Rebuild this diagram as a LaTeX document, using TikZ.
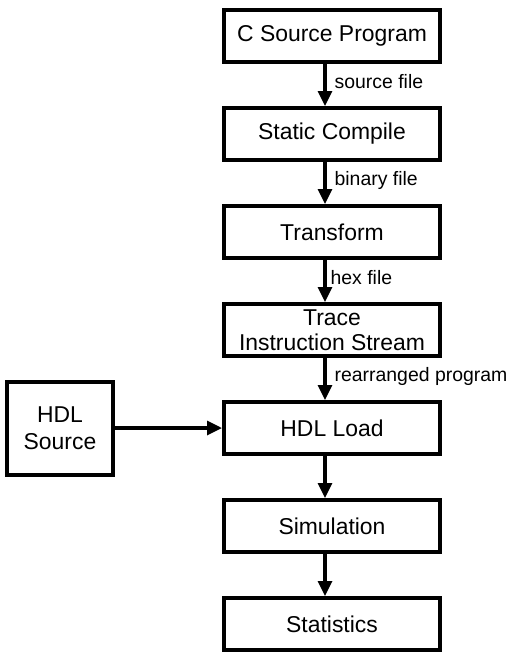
\documentclass[tikz,border=0pt]{standalone}
\usepackage{fontspec}
\setmainfont{Liberation Sans}
\usetikzlibrary{positioning, arrows.meta}
\tikzset{ stepbox/.style = { rectangle
                           , draw
                           , line width   = 2bp
                           , inner sep    = 1bp
                           , minimum width  = 108bp
                           , minimum height = 26bp
                           , align        = center
                           , font         = \fontsize{11.5}{12.5}\selectfont
                           },
            srcbox/.style = { stepbox
                            , minimum width  = 53bp
                            , minimum height = 46.5bp
                            , font         = \fontsize{11.5}{13.5}\selectfont
                            },
            flow/.style = { line width = 1.6bp
                          , -{Triangle[length=7.5bp, width=7bp]}
                          },
            lbl/.style = { right
                         , inner sep = 1bp
                         , xshift    = 3bp
                         , yshift    = 1.5bp
                         , font      = \fontsize{9.75}{11}\selectfont
                         }
          }

\begin{document}
\begin{tikzpicture}[x=0.5bp, y=-0.5bp, node distance=21bp]
    \useasboundingbox (0,0) rectangle (510,654);

    % main tool chain, top to bottom
    \node[stepbox] (csrc) at (332,36) {C Source Program};
    \node[stepbox, below=of csrc]  (scomp) {Static Compile};
    \node[stepbox, below=of scomp] (xform) {Transform};
    \node[stepbox, below=of xform] (trace) {Trace\\Instruction Stream};
    \node[stepbox, below=of trace] (hload) {HDL Load};
    \node[stepbox, below=of hload] (simul) {Simulation};
    \node[stepbox, below=of simul] (stats) {Statistics};

    % side input
    \node[srcbox, left=53.5bp of hload] (hsrc) {HDL\\Source};

    % the arrows run a little left of the box centres
    \draw[flow] ([xshift=-3.5bp]csrc.south)  -- node[lbl] {source file} ([xshift=-3.5bp]scomp.north);
    \draw[flow] ([xshift=-3.5bp]scomp.south) -- node[lbl] {binary file} ([xshift=-3.5bp]xform.north);
    \draw[flow] ([xshift=-3.5bp]xform.south) -- node[lbl, xshift=-2bp] {hex file} ([xshift=-3.5bp]trace.north);
    \draw[flow] ([xshift=-3.5bp]trace.south) -- node[lbl] {rearranged program} ([xshift=-3.5bp]hload.north);
    \draw[flow] ([xshift=-3.5bp]hload.south) -- ([xshift=-3.5bp]simul.north);
    \draw[flow] ([xshift=-3.5bp]simul.south) -- ([xshift=-3.5bp]stats.north);
    \draw[flow] (hsrc) -- (hload);
\end{tikzpicture}
\end{document}
